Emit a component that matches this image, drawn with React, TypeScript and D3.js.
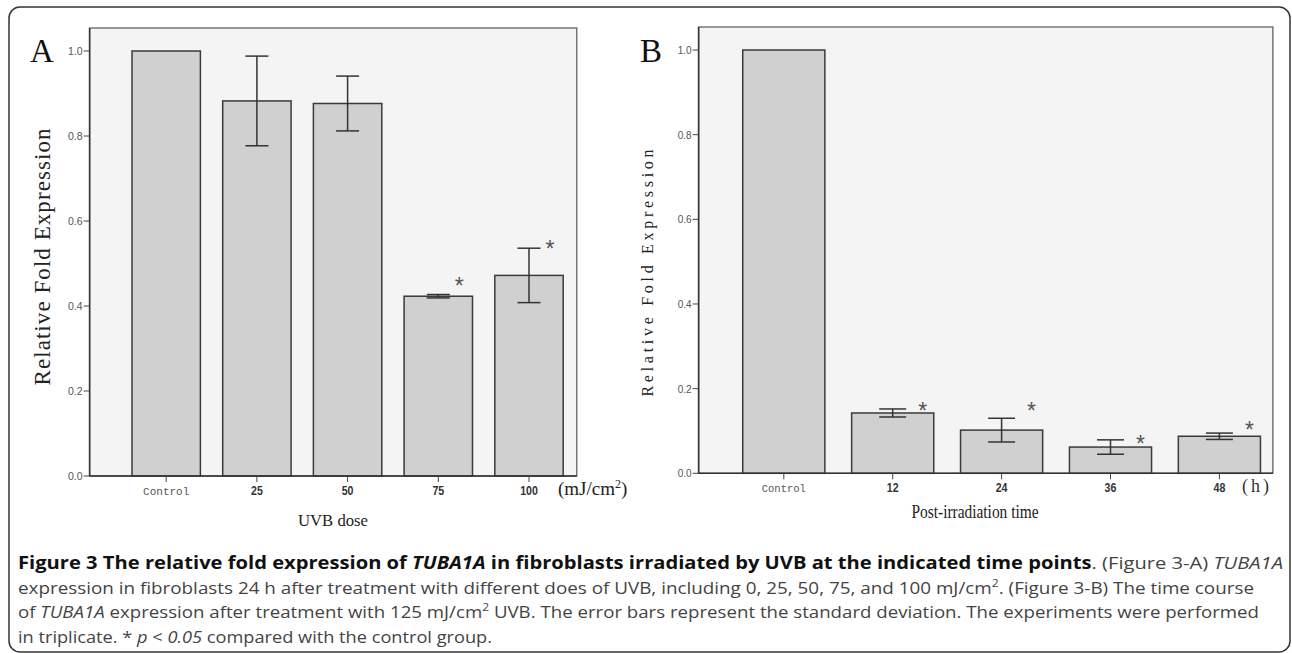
import React from "react";
import * as d3 from "d3";

// ---------- data ----------
const catsA = ["Control", "25", "50", "75", "100"];
const meanA = [1.0, 0.8825, 0.8765, 0.423, 0.472];
const sdA = [0, 0.1055, 0.0645, 0.004, 0.064];
const starA: (number | null)[] = [null, null, null, 0.459, 0.546];

const catsB = ["Control", "12", "24", "36", "48"];
const meanB = [1.0, 0.1425, 0.102, 0.062, 0.0875];
const sdB = [0, 0.0095, 0.028, 0.017, 0.0075];
const starB: (number | null)[] = [null, 0.159, 0.159, 0.082, 0.114];

const yTicks = [0, 0.2, 0.4, 0.6, 0.8, 1.0];

// ---------- layout ----------
const W = 1292;
const H = 653;

type PanelCfg = {
  letter: string;
  letterX: number;
  frameL: number;
  frameR: number;
  frameT: number;
  axisY: number;
  oneY: number;
  bandL: number;
  bandR: number;
  capW: number;
  starDx: number;
  tickFont: number;
  ylabX: number;
  ylabCY: number;
  ylabLen: number;
  ylabFont: number;
  catFont: number;
  labBase: number;
  xTitle: string;
  xTitleX: number;
  xTitleY: number;
  xTitleLen: number;
  xTitleFont: number;
};

const cfgA: PanelCfg = {
  letter: "A",
  letterX: 30,
  frameL: 89.6,
  frameR: 576.8,
  frameT: 28,
  axisY: 476,
  oneY: 51,
  bandL: 120.85,
  bandR: 574.35,
  capW: 23,
  starDx: 21,
  tickFont: 10.5,
  ylabX: 50,
  ylabCY: 257,
  ylabLen: 257,
  ylabFont: 23,
  catFont: 11,
  labBase: 495,
  xTitle: "UVB dose",
  xTitleX: 333,
  xTitleY: 526,
  xTitleLen: 70,
  xTitleFont: 17,
};

const cfgB: PanelCfg = {
  letter: "B",
  letterX: 640,
  frameL: 698.6,
  frameR: 1272.9,
  frameT: 27,
  axisY: 473.3,
  oneY: 50,
  bandL: 729.35,
  bandR: 1273.85,
  capW: 27,
  starDx: 30,
  tickFont: 10,
  ylabX: 653,
  ylabCY: 273,
  ylabLen: 247,
  ylabFont: 16,
  catFont: 10.5,
  labBase: 492,
  xTitle: "Post-irradiation time",
  xTitleX: 975,
  xTitleY: 518,
  xTitleLen: 127,
  xTitleFont: 18,
};

const serif = "'Liberation Serif', 'Times New Roman', serif";
const sans = "'Liberation Sans', Arial, sans-serif";
const mono = "'Liberation Mono', 'DejaVu Sans Mono', monospace";
const capFont = "'Open Sans', 'Liberation Sans', sans-serif";

function Panel({
  cfg,
  cats,
  means,
  sds,
  stars,
  unit,
}: {
  cfg: PanelCfg;
  cats: string[];
  means: number[];
  sds: number[];
  stars: (number | null)[];
  unit: React.ReactNode;
}) {
  const x = d3
    .scaleBand<string>()
    .domain(cats)
    .range([cfg.bandL, cfg.bandR])
    .paddingInner(0.246)
    .paddingOuter(0.123);
  const y = d3.scaleLinear().domain([0, 1]).range([cfg.axisY, cfg.oneY]);
  const bw = x.bandwidth();
  const fmt = d3.format(".1f");
  return (
    <g>
      <rect
        x={cfg.frameL}
        y={cfg.frameT}
        width={cfg.frameR - cfg.frameL}
        height={cfg.axisY - cfg.frameT}
        fill="#f4f4f4"
        stroke="#555"
        strokeWidth={1.2}
      />
      {cats.map((c, i) => (
        <rect
          key={c}
          x={x(c)}
          y={y(means[i])}
          width={bw}
          height={y(0) - y(means[i])}
          fill="#d0d0d0"
          stroke="#3a3a3a"
          strokeWidth={1.5}
        />
      ))}
      {cats.map((c, i) => {
        if (!sds[i]) return null;
        const cx = (x(c) as number) + bw / 2;
        const hi = y(means[i] + sds[i]);
        const lo = y(means[i] - sds[i]);
        return (
          <g key={"e" + c} stroke="#333" strokeWidth={1.5}>
            <line x1={cx} x2={cx} y1={hi} y2={lo} />
            <line x1={cx - cfg.capW / 2} x2={cx + cfg.capW / 2} y1={hi} y2={hi} />
            <line x1={cx - cfg.capW / 2} x2={cx + cfg.capW / 2} y1={lo} y2={lo} />
          </g>
        );
      })}
      {cats.map((c, i) => {
        const s = stars[i];
        if (s == null) return null;
        const cx = (x(c) as number) + bw / 2 + cfg.starDx;
        return (
          <text
            key={"s" + c}
            x={cx}
            y={y(s) + 13}
            textAnchor="middle"
            fontFamily={sans}
            fontSize={23}
            fill="#555"
          >
            *
          </text>
        );
      })}
      <line
        x1={cfg.frameL}
        x2={cfg.frameR}
        y1={cfg.axisY}
        y2={cfg.axisY}
        stroke="#333"
        strokeWidth={1.6}
      />
      <line
        x1={cfg.frameL}
        x2={cfg.frameL}
        y1={cfg.frameT}
        y2={cfg.axisY}
        stroke="#333"
        strokeWidth={1.6}
      />
      {yTicks.map((t) => (
        <g key={"yt" + t}>
          <line
            x1={cfg.frameL - 6}
            x2={cfg.frameL}
            y1={y(t)}
            y2={y(t)}
            stroke="#444"
            strokeWidth={1}
          />
          <text
            x={cfg.frameL - 7}
            y={y(t) + 4}
            textAnchor="end"
            fontFamily={sans}
            fontSize={cfg.tickFont}
            fill="#555"
          >
            {fmt(t)}
          </text>
        </g>
      ))}
      {cats.map((c) => {
        const cx = (x(c) as number) + bw / 2;
        const isCtrl = c === "Control";
        return (
          <g key={"xt" + c}>
            <line
              x1={cx}
              x2={cx}
              y1={cfg.axisY}
              y2={cfg.axisY + 6}
              stroke="#444"
              strokeWidth={1}
            />
            <text
              x={cx}
              y={cfg.labBase}
              textAnchor="middle"
              fontFamily={isCtrl ? mono : sans}
              fontSize={isCtrl ? cfg.catFont : 12.5}
              fontWeight={isCtrl ? 400 : 600}
              fill={isCtrl ? "#555" : "#333"}
              {...(isCtrl
                ? {}
                : { transform: `translate(${cx},0) scale(0.85,1) translate(${-cx},0)` })}
            >
              {c}
            </text>
          </g>
        );
      })}
      {unit}
      <text
        x={cfg.xTitleX}
        y={cfg.xTitleY}
        textAnchor="middle"
        fontFamily={serif}
        fontSize={cfg.xTitleFont}
        fill="#222"
        textLength={cfg.xTitleLen}
        lengthAdjust="spacingAndGlyphs"
      >
        {cfg.xTitle}
      </text>
      <text
        transform={`translate(${cfg.ylabX},${cfg.ylabCY}) rotate(-90)`}
        textAnchor="middle"
        fontFamily={serif}
        fontSize={cfg.ylabFont}
        fill="#222"
        textLength={cfg.ylabLen}
        lengthAdjust="spacing"
      >
        Relative Fold Expression
      </text>
      <text x={cfg.letterX} y={62} fontFamily={serif} fontSize={33} fill="#111">
        {cfg.letter}
      </text>
    </g>
  );
}

export default function App() {
  return (
    <div style={{ position: "absolute", left: 0, top: 0 }}>
      <svg width={W} height={H} style={{ display: "block", background: "#fff" }}>
        <rect x={0} y={0} width={W} height={H} fill="#fff" />
        <rect
          x={9}
          y={7}
          width={1281}
          height={645}
          rx={11}
          fill="none"
          stroke="#333"
          strokeWidth={1.5}
        />
        <Panel
          cfg={cfgA}
          cats={catsA}
          means={meanA}
          sds={sdA}
          stars={starA}
          unit={
            <text x={558} y={495} fontFamily={serif} fontSize={19} fill="#222">
              (mJ/cm<tspan baselineShift="super" fontSize={12}>2</tspan>)
            </text>
          }
        />
        <Panel
          cfg={cfgB}
          cats={catsB}
          means={meanB}
          sds={sdB}
          stars={starB}
          unit={
            <text x={1242} y={492} fontFamily={serif} fontSize={18} fill="#333" letterSpacing={3}>
              (h)
            </text>
          }
        />
        <g fontFamily={capFont} fontSize={17}>
          <text x={18} y={569} textLength={1265} lengthAdjust="spacingAndGlyphs" fill="#444">
            <tspan fontWeight="bold" fill="#111">
              Figure 3 The relative fold expression of{" "}
            </tspan>
            <tspan fontWeight="bold" fontStyle="italic" fill="#111">
              TUBA1A
            </tspan>
            <tspan fontWeight="bold" fill="#111">
              {" "}in fibroblasts irradiated by UVB at the indicated time points
            </tspan>
            <tspan>. (Figure 3-A) </tspan>
            <tspan fontStyle="italic">TUBA1A</tspan>
          </text>
          <text x={18} y={593.5} textLength={1236} lengthAdjust="spacingAndGlyphs" fill="#444">
            expression in fibroblasts 24 h after treatment with different does of UVB, including 0, 25, 50, 75, and 100 mJ/cm
            <tspan baselineShift="super" fontSize={11}>2</tspan>
            <tspan>. (Figure 3-B) The time course</tspan>
          </text>
          <text x={18} y={618} textLength={1241} lengthAdjust="spacingAndGlyphs" fill="#444">
            of <tspan fontStyle="italic">TUBA1A</tspan> expression after treatment with 125 mJ/cm
            <tspan baselineShift="super" fontSize={11}>2</tspan>
            <tspan> UVB. The error bars represent the standard deviation. The experiments were performed</tspan>
          </text>
          <text x={18} y={642.5} textLength={474} lengthAdjust="spacingAndGlyphs" fill="#444">
            in triplicate. * <tspan fontStyle="italic">p</tspan> &lt;{" "}
            <tspan fontStyle="italic">0.05</tspan> compared with the control group.
          </text>
        </g>
      </svg>
    </div>
  );
}
